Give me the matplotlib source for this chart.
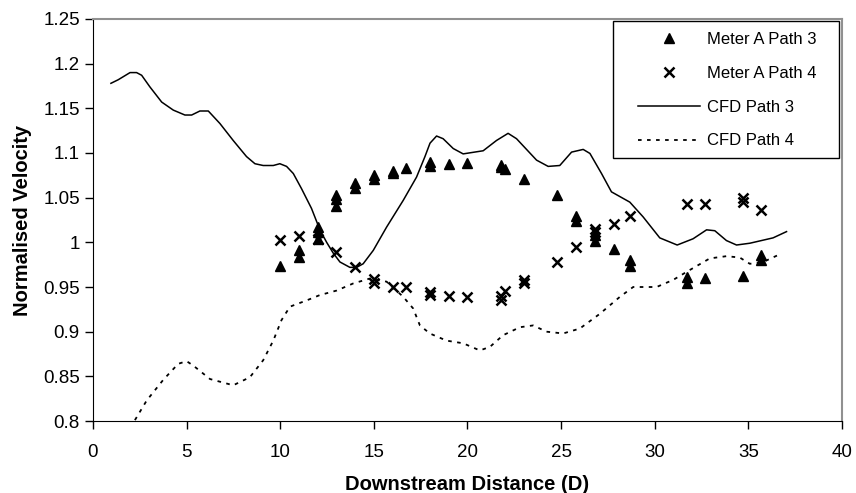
import numpy as np
import matplotlib
matplotlib.use("Agg")
import matplotlib.pyplot as plt
from matplotlib.patches import Rectangle

plt.rcParams['font.family'] = ['Liberation Sans', 'DejaVu Sans']

# Meter A Path 3 (triangles)
p3_x = [10, 11, 11, 12, 12, 12, 13, 13, 13, 14, 14, 15, 15, 16, 16, 16.7,
        18, 18, 19, 20, 21.8, 21.8, 22, 23, 24.8, 25.8, 25.8, 26.8, 26.8,
        27.8, 28.7, 28.7, 31.7, 31.7, 32.7, 34.7, 35.7, 35.7]
p3_y = [0.974, 0.984, 0.991, 1.004, 1.012, 1.017, 1.041, 1.048, 1.053, 1.061, 1.066,
        1.071, 1.075, 1.078, 1.080, 1.083,
        1.086, 1.090, 1.088, 1.089, 1.084, 1.087, 1.082, 1.071, 1.053, 1.024, 1.030,
        1.002, 1.008, 0.993, 0.974, 0.980, 0.955, 0.961, 0.960, 0.962, 0.980, 0.986]

# Meter A Path 4 (crosses)
p4_x = [10, 11, 12, 13, 14, 15, 15, 16, 16.7, 18, 18, 19, 20, 21.8, 21.8, 22,
        23, 23, 24.8, 25.8, 26.8, 26.8, 27.8, 28.7, 31.7, 32.7, 34.7, 34.7, 35.7]
p4_y = [1.003, 1.007, 1.004, 0.989, 0.972, 0.955, 0.959, 0.950, 0.950, 0.941, 0.944,
        0.940, 0.939, 0.936, 0.940, 0.945,
        0.955, 0.958, 0.978, 0.995, 1.012, 1.015, 1.020, 1.029, 1.043, 1.043, 1.045, 1.050, 1.036]

# CFD Path 3 (solid line)
cfd3_x = [0.96, 1.35, 1.98, 2.33, 2.6, 3.04, 3.67, 4.29, 4.91, 5.27, 5.71, 6.16,
          6.78, 7.49, 8.2, 8.65, 9.09, 9.63, 9.98, 10.34, 10.7, 11.14, 11.67, 12.12,
          12.48, 12.83, 13.19, 13.72, 14.08, 14.43, 14.97, 15.68, 16.57, 17.28,
          17.73, 18.0, 18.35, 18.7, 19.24, 19.77, 20.84, 21.55, 22.17, 22.62, 23.69,
          24.31, 24.93, 25.56, 26.18, 26.54, 27.16, 27.69, 28.67, 29.38, 30.27,
          31.2, 32.05, 32.77, 33.21, 33.83, 34.37, 35.08, 36.32, 37.04]
cfd3_y = [1.178, 1.182, 1.190, 1.190, 1.187, 1.174, 1.157, 1.148, 1.1425, 1.1425,
          1.147, 1.147, 1.133, 1.114, 1.096, 1.088, 1.086, 1.086, 1.088, 1.085, 1.077,
          1.060, 1.038, 1.014, 1.000, 0.988, 0.978, 0.972, 0.972, 0.976, 0.991,
          1.017, 1.047, 1.073, 1.096, 1.111, 1.119, 1.116, 1.105, 1.099, 1.1025,
          1.114, 1.122, 1.116, 1.092, 1.085, 1.086, 1.101, 1.104, 1.0995, 1.077,
          1.0565, 1.045, 1.0285, 1.005, 0.997, 1.004, 1.014, 1.013, 1.002, 0.997,
          0.999, 1.005, 1.012]

# CFD Path 4 (dotted line)
cfd4_x = [2.24, 2.87, 3.75, 4.55, 5.0, 5.36, 6.25, 7.49, 8.38, 9.09, 9.63, 10.07,
          10.52, 11.41, 12.12, 13.01, 13.9, 14.79, 15.68, 16.57, 17.1, 17.46, 17.99,
          18.88, 19.77, 20.66, 21.2, 21.9, 22.8, 23.51, 24.22, 25.11, 26.0, 27.07,
          28.14, 28.85, 30.1, 30.99, 31.87, 32.94, 33.83, 34.54, 35.08, 35.79, 36.77]
cfd4_y = [0.801, 0.823, 0.846, 0.864, 0.867, 0.862, 0.847, 0.840, 0.849, 0.868,
          0.890, 0.913, 0.928, 0.935, 0.941, 0.946, 0.954, 0.9595, 0.956, 0.939,
          0.926, 0.907, 0.898, 0.890, 0.887, 0.879, 0.883, 0.896, 0.905, 0.907,
          0.900, 0.898, 0.9035, 0.920, 0.939, 0.950, 0.950, 0.958, 0.969, 0.982,
          0.9845, 0.983, 0.976, 0.978, 0.9875]

fig = plt.figure(figsize=(8.56, 4.93), dpi=100)
ax = fig.add_axes([0.1086, 0.146, 0.875, 0.8155])

ax.plot(p3_x, p3_y, linestyle='none', marker='^', color='black', markersize=7,
        label='Meter A Path 3')
ax.plot(p4_x, p4_y, linestyle='none', marker='x', color='black', markersize=7,
        markeredgewidth=1.8, label='Meter A Path 4')
ax.plot(cfd3_x, cfd3_y, color='black', linewidth=1.1, label='CFD Path 3')
ax.plot(cfd4_x, cfd4_y, color='black', linewidth=1.3, linestyle=(0, (2, 3)),
        label='CFD Path 4')

ax.set_xlim(0, 40)
ax.set_ylim(0.8, 1.25)
ax.set_xticks(np.arange(0, 41, 5))
ax.set_yticks(np.arange(0.8, 1.2501, 0.05))
ax.set_yticklabels(['0.8', '0.85', '0.9', '0.95', '1', '1.05', '1.1', '1.15', '1.2', '1.25'])
ax.tick_params(direction='out', length=5.5, width=1, labelsize=13.5)
ax.tick_params(axis='x', pad=11)
ax.tick_params(axis='y', pad=4)

ax.spines['left'].set_color('black')
ax.spines['bottom'].set_color('black')
ax.spines['top'].set_color('#909090')
ax.spines['right'].set_color('#909090')
ax.spines['top'].set_linewidth(1.5)
ax.spines['right'].set_linewidth(1.5)

ax.set_xlabel('Downstream Distance (D)', fontsize=14.5, fontweight='bold', labelpad=10)
ax.set_ylabel('Normalised Velocity', fontsize=14.5, fontweight='bold', labelpad=8)

# legend frame drawn separately so the padding can differ horizontally/vertically
frame = Rectangle((0.6943, 0.654), 0.3017, 0.3408, transform=ax.transAxes,
                  facecolor='white', edgecolor='black', linewidth=1.0, zorder=4)
ax.add_patch(frame)
leg = ax.legend(loc='upper left', bbox_to_anchor=(0.7276, 0.968), borderaxespad=0,
                fontsize=12, numpoints=1, handlelength=3.72, handletextpad=0.42,
                labelspacing=1.13, frameon=False, borderpad=0)
leg.set_zorder(5)

plt.savefig('out.png', dpi=100)
